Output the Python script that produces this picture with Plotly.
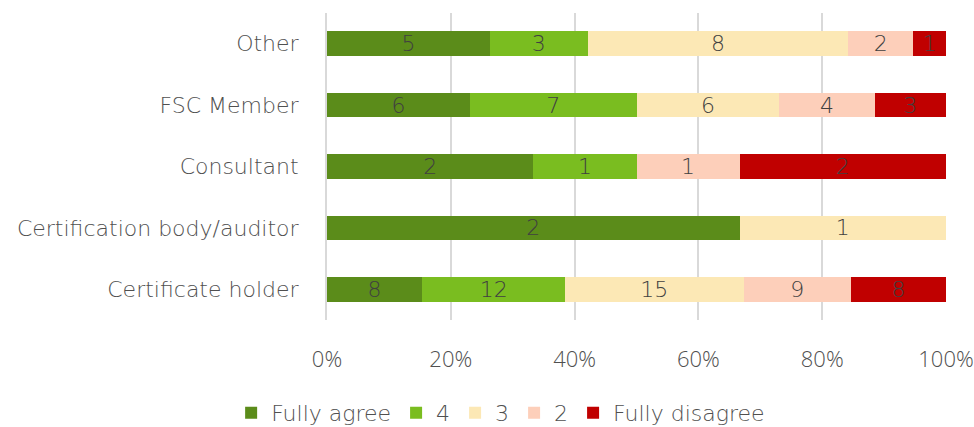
import plotly.graph_objects as go

# Respondent groups (bottom to top) and response counts per level
categories = ["Certificate holder", "Certification body/auditor", "Consultant", "FSC Member", "Other"]
series_names = ["Fully agree", "4", "3", "2", "Fully disagree"]
fully_agree = [8, 2, 2, 6, 5]
level_4 = [12, 0, 1, 7, 3]
level_3 = [15, 1, 0, 6, 8]
level_2 = [9, 0, 1, 4, 2]
fully_disagree = [8, 0, 2, 3, 1]
colors = ["#5B8C1A", "#7ABD20", "#FCE8B5", "#FDCFBA", "#C00000"]

counts = [fully_agree, level_4, level_3, level_2, fully_disagree]
totals = [sum(c[i] for c in counts) for i in range(len(categories))]

FONT = "DejaVu Sans"
SIZE = 22
TEXT = "#505050"
fig = go.Figure()
for name, vals, col in zip(series_names, counts, colors):
    shares = [v / t if t else 0 for v, t in zip(vals, totals)]
    fig.add_trace(go.Bar(
        y=categories, x=shares, name=name, orientation="h",
        marker=dict(color=col, line=dict(width=0)),
        text=[str(v) if v else "" for v in vals],
        textposition="inside", insidetextanchor="middle", textangle=0,
        textfont=dict(family=FONT, size=SIZE, color="#404040", weight=200),
        cliponaxis=False,
        width=0.40,
    ))

fig.update_layout(
    barmode="stack",
    width=974, height=427,
    margin=dict(l=327, r=28, t=13, b=107, autoexpand=False),
    paper_bgcolor="white", plot_bgcolor="white",
    font=dict(family=FONT, color=TEXT, size=SIZE, weight=200),
    uniformtext=dict(minsize=SIZE, mode="show"),
    legend=dict(orientation="h", xref="container", yref="container",
                x=0.514, xanchor="center", y=0.033, yanchor="middle",
                font=dict(family=FONT, size=SIZE, color=TEXT, weight=200),
                traceorder="normal", itemwidth=30, itemclick=False),
    xaxis=dict(range=[0, 1], tickformat=".0%", dtick=0.2, showgrid=True,
               gridcolor="#D9D9D9", gridwidth=2, zeroline=False,
               tickfont=dict(family="Open Sans", size=22, color=TEXT, weight=300),
               ticks="", ticklabelstandoff=24, ticklabeloverflow="allow",
               automargin=False),
    yaxis=dict(showline=True, linecolor="#D9D9D9", linewidth=2,
               tickfont=dict(family=FONT, size=SIZE, color=TEXT, weight=200),
               ticks="", ticklabelstandoff=22, automargin=False),
)

fig.write_html("out.html")
